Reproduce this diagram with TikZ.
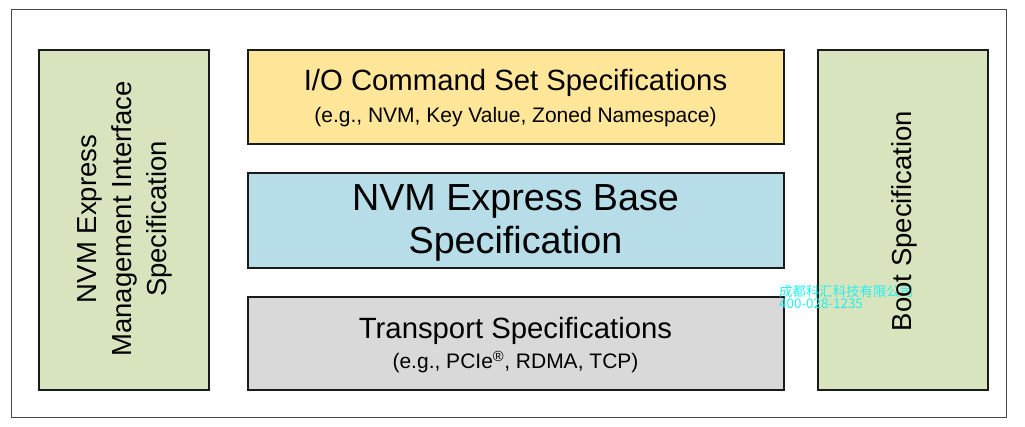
\documentclass[tikz,border=0pt]{standalone}
\usepackage{fontspec}
\setmainfont{Liberation Sans}
\newfontfamily\cjk{Noto Sans CJK SC}
\definecolor{boxgreen}{HTML}{D7E4BD}
\definecolor{boxyellow}{HTML}{FFE699}
\definecolor{boxblue}{HTML}{B7DDE8}
\definecolor{boxgray}{HTML}{D9D9D9}
\definecolor{wmcyan}{HTML}{22F0F0}
\definecolor{edge}{HTML}{1A1A1A}
\begin{document}
\begin{tikzpicture}[x=1pt,y=-1pt,
  specbox/.style={draw=edge,line width=1.6pt},
  txt/.style={inner sep=0pt,align=center,text=black},
  wm/.style={inner sep=0pt,anchor=west,text=wmcyan,font=\cjk\fontsize{13.4}{13.4}\selectfont}]
\useasboundingbox (0,0) rectangle (1025,426);
\node[draw=edge!80,line width=1.3pt,minimum width=995pt,minimum height=408pt,inner sep=0pt,anchor=north west] (frame) at (11,9) {};
\node[specbox,fill=boxgreen,minimum width=170pt,minimum height=340pt,inner sep=0pt,anchor=north west] (mgmt) at (38,49) {};
\node[specbox,fill=boxyellow,minimum width=536pt,minimum height=94pt,inner sep=0pt,anchor=north west] (io) at (247,49) {};
\node[specbox,fill=boxblue,minimum width=536pt,minimum height=95pt,inner sep=0pt,anchor=north west] (base) at (247,172) {};
\node[specbox,fill=boxgray,minimum width=536pt,minimum height=93pt,inner sep=0pt,anchor=north west] (trans) at (247,296) {};
\node[specbox,fill=boxgreen,minimum width=170pt,minimum height=340pt,inner sep=0pt,anchor=north west] (boot) at (817,49) {};
% texts
\node[txt,font=\fontsize{29.3}{35}\selectfont] (iot) at (515.5,83) {I/O Command Set Specifications};
\node[txt,font=\fontsize{21}{25}\selectfont] (ios) at (515.5,117) {(e.g., NVM, Key Value, Zoned Namespace)};
\node[txt,font=\fontsize{37.7}{43}\selectfont] (baset) at (515.5,222.5) {NVM Express Base\\Specification};
\node[txt,font=\fontsize{29.3}{35}\selectfont] (transt) at (515.5,331) {Transport Specifications};
\node[txt,font=\fontsize{21}{25}\selectfont] (transs) at (515.5,362) {(e.g., PCIe\textsuperscript{\textregistered}, RDMA, TCP)};
\node[txt,rotate=90,font=\fontsize{27.5}{35}\selectfont] (mgmtt) at (125,219) {NVM Express\\Management Interface\\Specification};
% watermark
\node[wm] (wm1) at (779,291) {成都科汇科技有限公司};
\node[wm] (wm2) at (779,304) {400-028-1235};
\node[txt,rotate=90,font=\fontsize{27.5}{35}\selectfont] (boott) at (904,221) {Boot Specification};
\end{tikzpicture}
\end{document}
